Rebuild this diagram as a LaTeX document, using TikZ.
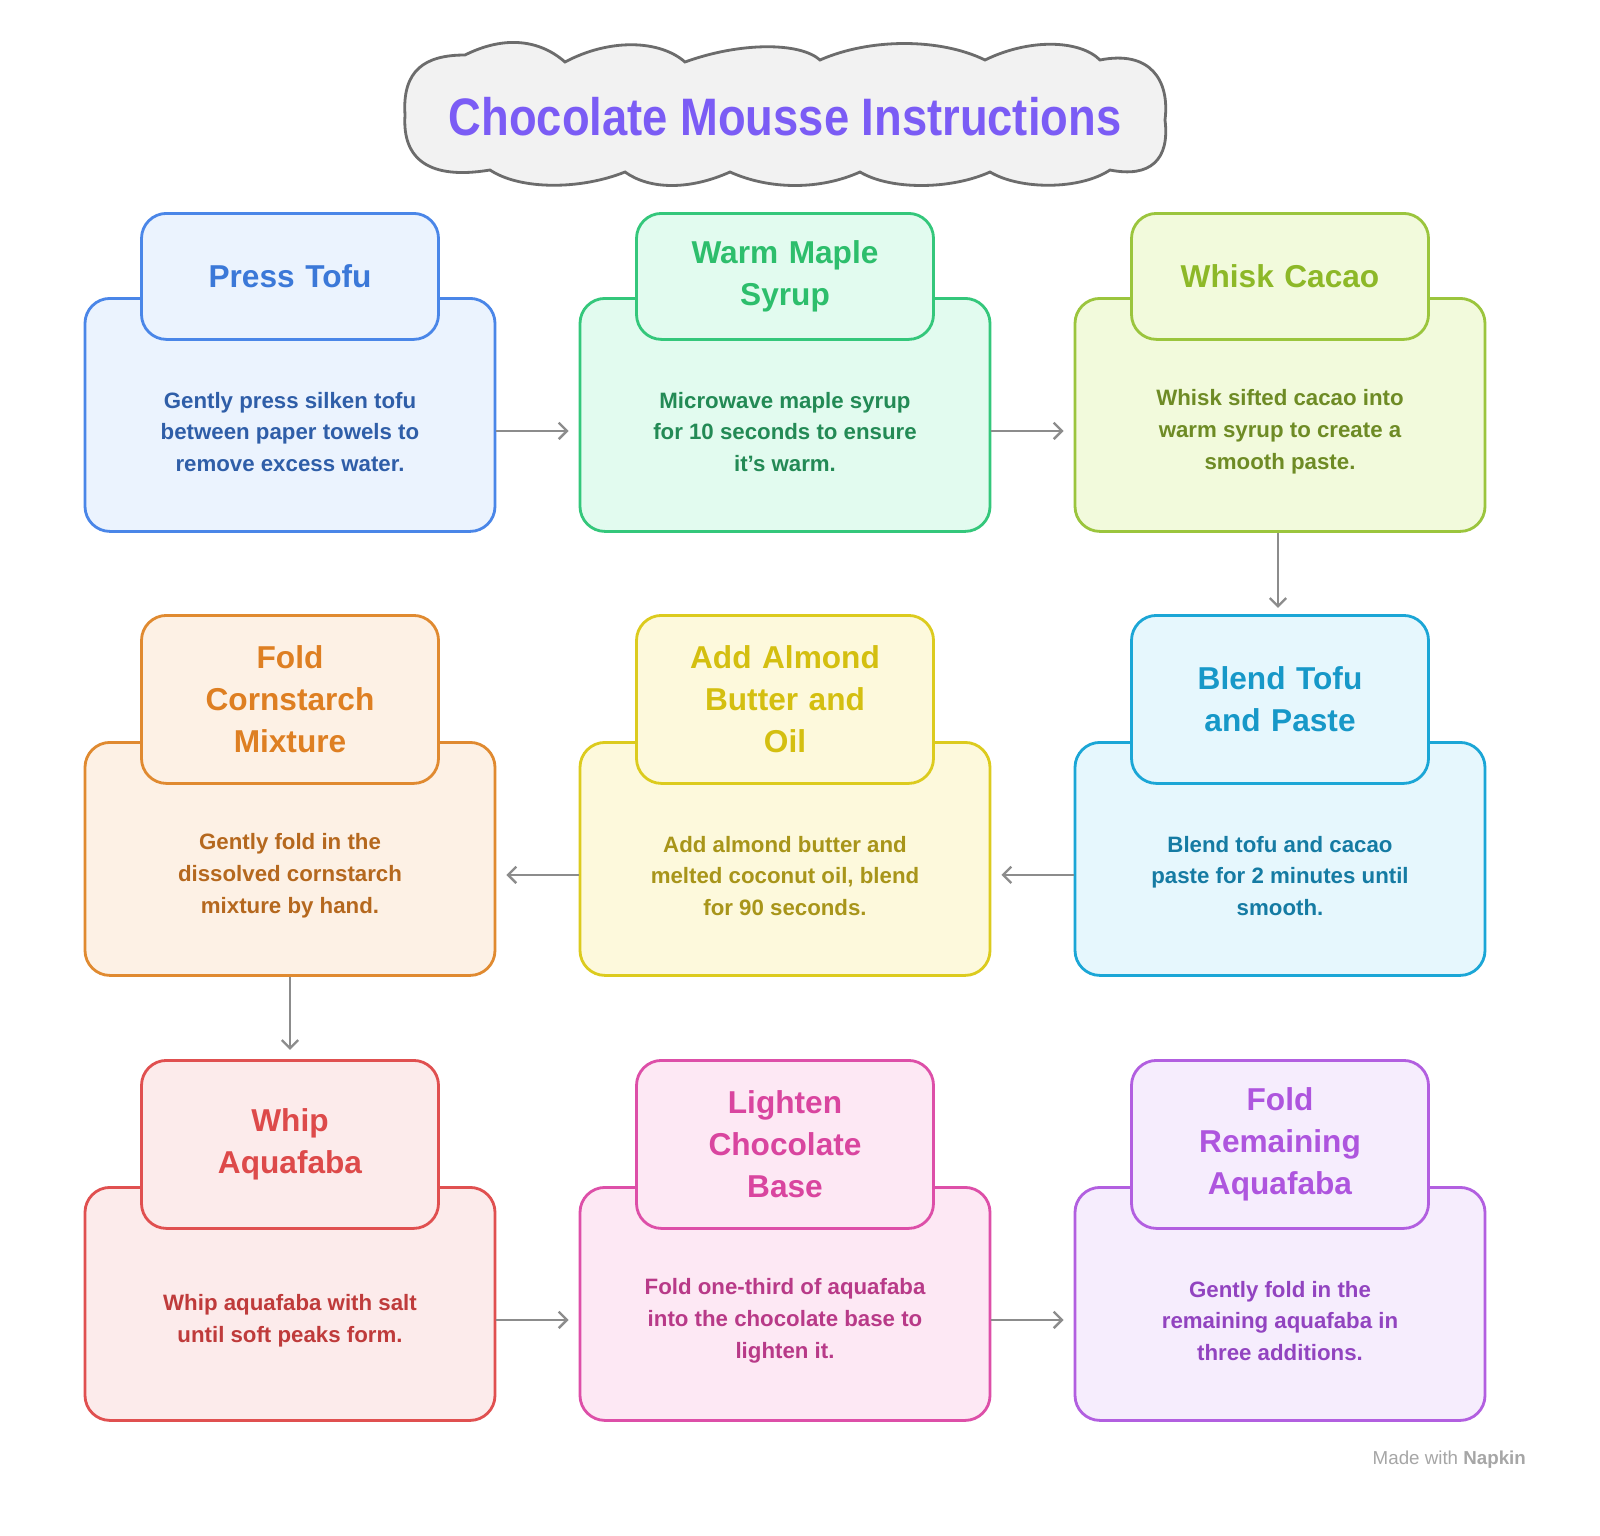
\documentclass[tikz,border=0pt]{standalone}
\usepackage{fontspec}
\setmainfont{Liberation Sans}
\usetikzlibrary{calc,arrows.meta}
\definecolor{bluD}{HTML}{4A86E8}\definecolor{bluF}{HTML}{EBF3FE}\definecolor{bluH}{HTML}{3B78D8}\definecolor{bluB}{HTML}{2F5EA8}
\definecolor{grnD}{HTML}{34C77B}\definecolor{grnF}{HTML}{E2FBEF}\definecolor{grnH}{HTML}{2DBE6C}\definecolor{grnB}{HTML}{238A55}
\definecolor{limD}{HTML}{9BC53D}\definecolor{limF}{HTML}{F2FADC}\definecolor{limH}{HTML}{8DB828}\definecolor{limB}{HTML}{6E8B25}
\definecolor{cyaD}{HTML}{1BA6D6}\definecolor{cyaF}{HTML}{E6F7FD}\definecolor{cyaH}{HTML}{1798C8}\definecolor{cyaB}{HTML}{157BA3}
\definecolor{yelD}{HTML}{DCCB1E}\definecolor{yelF}{HTML}{FDF9DC}\definecolor{yelH}{HTML}{D4BF10}\definecolor{yelB}{HTML}{A8951A}
\definecolor{oraD}{HTML}{E08A30}\definecolor{oraF}{HTML}{FDF1E5}\definecolor{oraH}{HTML}{DE7F22}\definecolor{oraB}{HTML}{B5681E}
\definecolor{redD}{HTML}{E05050}\definecolor{redF}{HTML}{FCEBEB}\definecolor{redH}{HTML}{DD4A4A}\definecolor{redB}{HTML}{BF3B3B}
\definecolor{pnkD}{HTML}{DD4FA8}\definecolor{pnkF}{HTML}{FDE8F4}\definecolor{pnkH}{HTML}{D9459F}\definecolor{pnkB}{HTML}{B83A88}
\definecolor{purD}{HTML}{B25FE0}\definecolor{purF}{HTML}{F6EDFD}\definecolor{purH}{HTML}{AE55DE}\definecolor{purB}{HTML}{9244C0}
\definecolor{ttl}{HTML}{7B5CF5}
\tikzset{
 big/.style={rounded corners=0.75cm, line width=2.4pt, minimum width=12.3cm, minimum height=6.99cm},
 top/.style={rounded corners=0.75cm, line width=2.4pt, minimum width=8.91cm, text width=8cm, align=center, font=\fontsize{27}{36}\selectfont\bfseries},
 body/.style={align=center, font=\fontsize{19}{27}\selectfont\bfseries},
 arr/.style={draw=gray!90, line width=2pt, -{Straight Barb[length=7pt,width=14pt]}},
}
\newcommand\mystep[7]{%
 \node[big, draw=#5D, fill=#5F, anchor=north] (#1) at (#2,#3+#4) {};
 \node[top, draw=#5D, fill=#5F, text=#5H, minimum height={(#4+41)*0.03cm}, anchor=north] (#1t) at (#2,#3) {#6};
 \node[body, text=#5B] (#1b) at ($(#1.south)!0.5!(#1t.south)+(0,-5)$) {#7};
}
\begin{document}
\begin{tikzpicture}[x=0.03cm,y=-0.03cm]
\fill[white] (0,0) rectangle (1600,1535);
\draw[draw=gray!85!black, line width=2.4pt, fill=gray!10]
 (405,115) .. controls (402,70) and (425,55) .. (465,55)
 .. controls (505,35) and (540,40) .. (565,62)
 .. controls (610,38) and (660,40) .. (685,62)
 .. controls (740,42) and (800,42) .. (820,60)
 .. controls (870,38) and (940,38) .. (985,60)
 .. controls (1030,38) and (1080,40) .. (1100,60)
 .. controls (1150,50) and (1170,80) .. (1165,120)
 .. controls (1170,160) and (1150,178) .. (1110,170)
 .. controls (1080,190) and (1020,190) .. (990,172)
 .. controls (950,190) and (890,190) .. (860,172)
 .. controls (820,190) and (770,190) .. (730,172)
 .. controls (690,190) and (650,190) .. (625,172)
 .. controls (580,190) and (520,190) .. (490,170)
 .. controls (430,180) and (402,160) .. (405,115) -- cycle;
\node[text=ttl, font=\fontsize{45}{50}\selectfont\bfseries] (title) at (785,117) {\scalebox{0.86}[1]{Chocolate Mousse Instructions}};
\mystep{s1}{290}{212}{85}{blu}{Press Tofu}{Gently press silken tofu\\between paper towels to\\remove excess water.}
\mystep{s2}{785}{212}{85}{grn}{Warm Maple\\Syrup}{Microwave maple syrup\\for 10 seconds to ensure\\it's warm.}
\mystep{s3}{1280}{212}{85}{lim}{Whisk Cacao}{Whisk sifted cacao into\\warm syrup to create a\\smooth paste.}
\mystep{s4}{1280}{614}{127}{cya}{Blend Tofu\\and Paste}{Blend tofu and cacao\\paste for 2 minutes until\\smooth.}
\mystep{s5}{785}{614}{127}{yel}{Add Almond\\Butter and\\Oil}{Add almond butter and\\melted coconut oil, blend\\for 90 seconds.}
\mystep{s6}{290}{614}{127}{ora}{Fold\\Cornstarch\\Mixture}{Gently fold in the\\dissolved cornstarch\\mixture by hand.}
\mystep{s7}{290}{1059}{127}{red}{Whip\\Aquafaba}{Whip aquafaba with salt\\until soft peaks form.}
\mystep{s8}{785}{1059}{127}{pnk}{Lighten\\Chocolate\\Base}{Fold one-third of aquafaba\\into the chocolate base to\\lighten it.}
\mystep{s9}{1280}{1059}{127}{pur}{Fold\\Remaining\\Aquafaba}{Gently fold in the\\remaining aquafaba in\\three additions.}
\draw[arr] ($(s1.east)+(0,16)$) -- ($(s2.west)+(-10,16)$);
\draw[arr] ($(s2.east)+(0,16)$) -- ($(s3.west)+(-10,16)$);
\draw[arr] ($(s3.south)+(-2,0)$) -- ($(s3.south)+(-2,75)$);
\draw[arr] ($(s4.west)+(0,16)$) -- ($(s5.east)+(10,16)$);
\draw[arr] ($(s5.west)+(0,16)$) -- ($(s6.east)+(10,16)$);
\draw[arr] (s6.south) -- ($(s6.south)+(0,73)$);
\draw[arr] ($(s7.east)+(0,16)$) -- ($(s8.west)+(-10,16)$);
\draw[arr] ($(s8.east)+(0,16)$) -- ($(s9.west)+(-10,16)$);
\node[text=gray!70, font=\fontsize{16}{18}\selectfont, anchor=east] (wm) at (1530,1460) {Made with \textbf{Napkin}};
\pgfresetboundingbox
\path[use as bounding box] (0,0) rectangle (1600,1535);
\end{tikzpicture}
\end{document}
